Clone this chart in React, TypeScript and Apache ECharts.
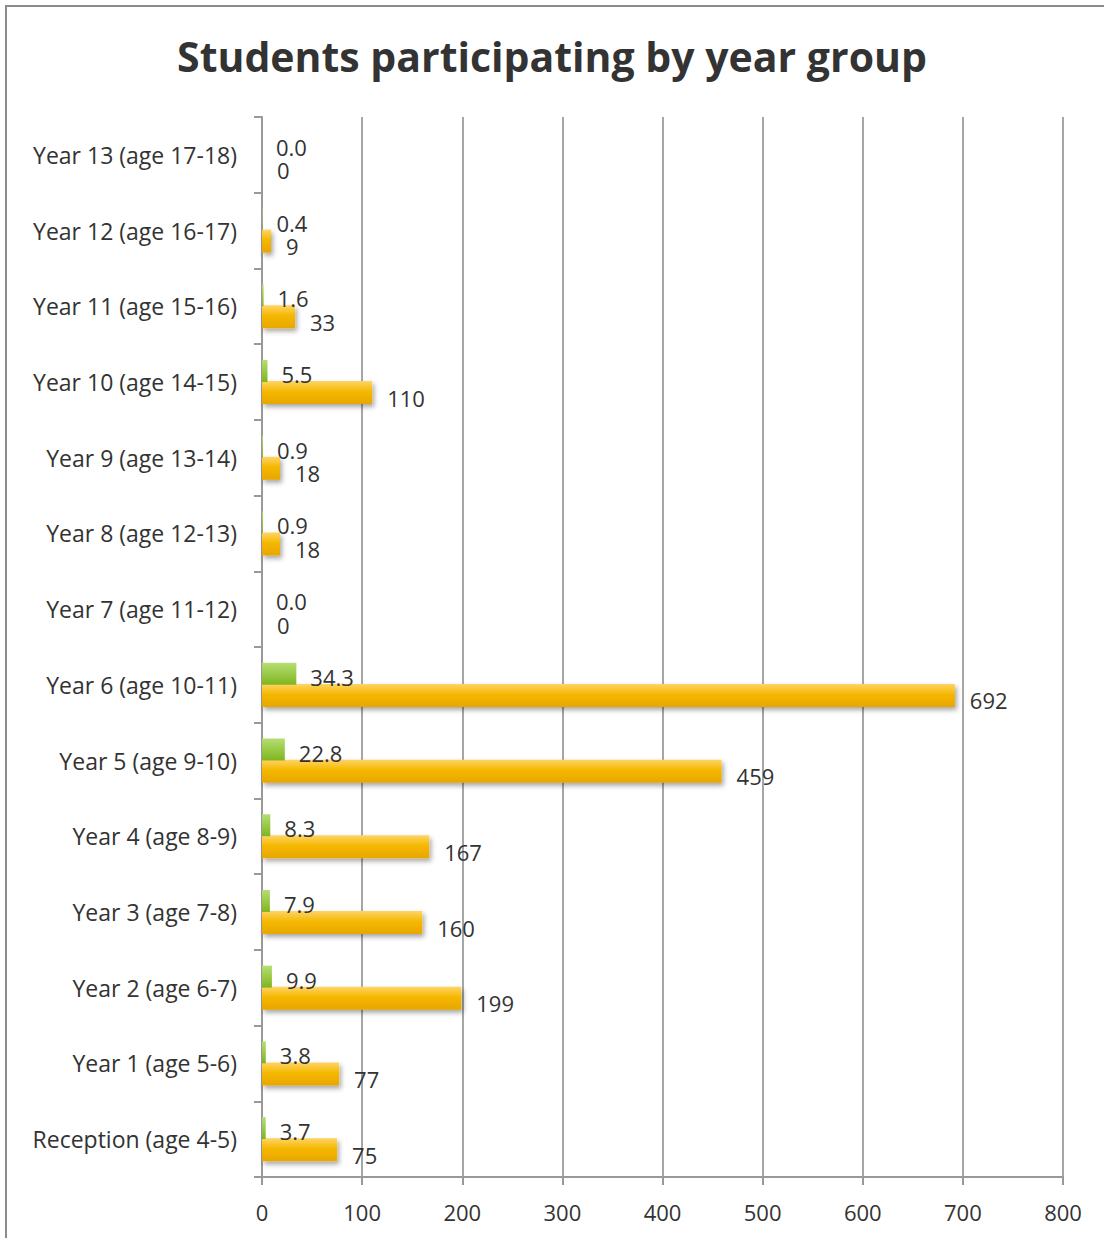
import React, { useEffect, useRef } from "react";
import * as echarts from "echarts";

const categories = [
  "Reception (age 4-5)",
  "Year 1 (age 5-6)",
  "Year 2 (age 6-7)",
  "Year 3 (age 7-8)",
  "Year 4 (age 8-9)",
  "Year 5 (age 9-10)",
  "Year 6 (age 10-11)",
  "Year 7 (age 11-12)",
  "Year 8 (age 12-13)",
  "Year 9 (age 13-14)",
  "Year 10 (age 14-15)",
  "Year 11 (age 15-16)",
  "Year 12 (age 16-17)",
  "Year 13 (age 17-18)",
];
const studentCounts = [75, 77, 199, 160, 167, 459, 692, 0, 18, 18, 110, 33, 9, 0];
const studentPercents = [3.7, 3.8, 9.9, 7.9, 8.3, 22.8, 34.3, 0.0, 0.9, 0.9, 5.5, 1.6, 0.4, 0.0];
const xTicks = { min: 0, max: 800, interval: 100 };

const FONT = "'Open Sans', 'Noto Sans', sans-serif";

export default function App() {
  const ref = useRef<HTMLDivElement>(null);
  useEffect(() => {
    document.body.style.margin = "0";
    if (!ref.current) return;
    const chart = echarts.init(ref.current, null, { renderer: "svg" });
    chart.setOption({
      animation: false,
      backgroundColor: "#ffffff",
      title: {
        text: "Students participating by year group",
        left: "center",
        top: 30,
        textStyle: { fontFamily: FONT, fontSize: 41, fontWeight: "bold", color: "#333333" },
      },
      graphic: [
        {
          type: "rect",
          shape: { x: 6, y: 6, width: 1200, height: 1300 },
          style: { fill: "none", stroke: "#8c8c8c", lineWidth: 2 },
          silent: true,
        },
      ],
      grid: { left: 262, right: 41, top: 117, bottom: 61, containLabel: false },
      xAxis: {
        type: "value",
        min: xTicks.min,
        max: xTicks.max,
        interval: xTicks.interval,
        axisLine: { show: true, lineStyle: { color: "#999999", width: 2 } },
        axisTick: { show: true, length: 8, lineStyle: { color: "#999999", width: 2 } },
        splitLine: { show: true, lineStyle: { color: "#a6a6a6", width: 2 } },
        axisLabel: { fontFamily: FONT, fontSize: 22, color: "#333333", margin: 24 },
      },
      yAxis: {
        type: "category",
        data: categories,
        axisLine: { show: true, lineStyle: { color: "#999999", width: 2 } },
        axisTick: { show: true, length: 8, lineStyle: { color: "#999999", width: 2 } },
        axisLabel: { fontFamily: FONT, fontSize: 23, color: "#333333", margin: 25 },
      },
      series: [
        {
          name: "Percent",
          type: "bar",
          data: studentPercents,
          barWidth: 22,
          barGap: "-4%",
          z: 4,
          itemStyle: {
            color: new echarts.graphic.LinearGradient(0, 0, 0, 1, [
              { offset: 0, color: "#b5de72" },
              { offset: 1, color: "#7fb51f" },
            ]),
          },
          label: {
            show: true,
            position: "right",
            distance: 14,
            offset: [0, 3],
            fontFamily: FONT,
            fontSize: 22,
            lineHeight: 20,
            color: "#333333",
            formatter: (p: any) => Number(p.value).toFixed(1),
          },
        },
        {
          name: "Students",
          type: "bar",
          data: studentCounts,
          barWidth: 23,
          barGap: "-4%",
          z: 3,
          itemStyle: {
            color: new echarts.graphic.LinearGradient(0, 0, 0, 1, [
              { offset: 0, color: "#ffd466" },
              { offset: 0.45, color: "#f5b800" },
              { offset: 1, color: "#e8a600" },
            ]),
            shadowBlur: 5,
            shadowOffsetX: 2,
            shadowOffsetY: 3,
            shadowColor: "rgba(0,0,0,0.35)",
          },
          label: {
            show: true,
            position: "right",
            distance: 15,
            offset: [0, 5],
            fontFamily: FONT,
            fontSize: 22,
            lineHeight: 20,
            color: "#333333",
          },
        },
      ],
    });
    return () => chart.dispose();
  }, []);
  return <div ref={ref} style={{ width: 1104, height: 1238 }} />;
}
